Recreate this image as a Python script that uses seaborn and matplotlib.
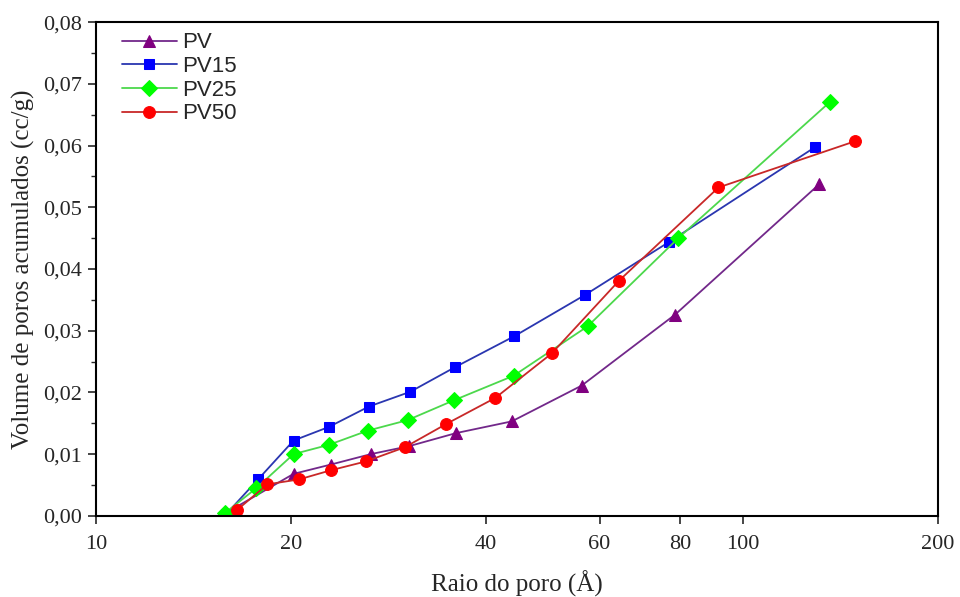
import numpy as np
import pandas as pd
import matplotlib
matplotlib.use("Agg")
import matplotlib.pyplot as plt
import matplotlib.ticker as mticker
import seaborn as sns

# raio do poro (A) e volume acumulado (cc/g)
pv_x = [15.9, 20.2, 23.05, 26.6, 30.5, 36.0, 43.9, 56.3, 78.5, 131]
pv_y = [0.0005, 0.0068, 0.0083, 0.0100, 0.0113, 0.0134, 0.0153, 0.0211, 0.0326, 0.0537]

pv15_x = [15.9, 17.8, 20.2, 22.9, 26.4, 30.6, 35.9, 44.3, 57.0, 76.9, 129]
pv15_y = [0.0003, 0.0059, 0.0122, 0.0144, 0.0177, 0.0201, 0.0241, 0.0291, 0.0358, 0.0444, 0.0597]

pv25_x = [15.8, 17.7, 20.2, 22.9, 26.3, 30.3, 35.7, 44.2, 57.5, 79.4, 136]
pv25_y = [0.0004, 0.0045, 0.0100, 0.0115, 0.0138, 0.0155, 0.0187, 0.0227, 0.0307, 0.0450, 0.0670]

pv50_x = [16.5, 18.4, 20.6, 23.1, 26.1, 30.0, 34.8, 41.4, 50.6, 64.3, 91.6, 149]
pv50_y = [0.0009, 0.0051, 0.0059, 0.0074, 0.0088, 0.0111, 0.0149, 0.0191, 0.0263, 0.0381, 0.0532, 0.0607]

nomes = ['PV', 'PV15', 'PV25', 'PV50']
xs = [pv_x, pv15_x, pv25_x, pv50_x]
ys = [pv_y, pv15_y, pv25_y, pv50_y]
marcadores = ['^', 's', 'D', 'o']
cor_marcador = ['#800080', '#0000ff', '#00ff00', '#ff0000']
cor_linha = ['#72288a', '#2a36b0', '#4cd84c', '#c82828']
tamanhos = [9, 7, 8, 8.5]

sns.set_style("white")
plt.rcParams['font.family'] = ['Liberation Serif', 'DejaVu Serif']

fig, ax = plt.subplots(figsize=(9.6, 5.97), dpi=100)
fig.subplots_adjust(left=0.1, right=0.977, top=0.963, bottom=0.136)

for i in range(len(nomes)):
    df = pd.DataFrame({'x': xs[i], 'y': ys[i]})
    sns.lineplot(data=df, x='x', y='y', ax=ax, sort=False, color=cor_linha[i],
                 linewidth=1.3, marker=marcadores[i], markersize=tamanhos[i],
                 markerfacecolor=cor_marcador[i], markeredgecolor=cor_marcador[i],
                 label=nomes[i])

ax.set_xscale('log')
ax.set_xlim(10, 200)
ax.set_ylim(0, 0.08)
ax.xaxis.set_major_locator(mticker.FixedLocator([10, 20, 40, 60, 80, 100, 200]))
ax.xaxis.set_major_formatter(mticker.FixedFormatter(['10', '20', '40', '60', '80', '100', '200']))
ax.xaxis.set_minor_locator(mticker.NullLocator())
ax.yaxis.set_major_locator(mticker.MultipleLocator(0.01))
ax.yaxis.set_minor_locator(mticker.MultipleLocator(0.005))
ax.yaxis.set_major_formatter(mticker.FuncFormatter(lambda v, p: ('%.2f' % v).replace('.', ',')))

ax.tick_params(axis='both', which='major', direction='out', length=6, width=1.2,
               labelsize=16, pad=4, left=True, bottom=True, top=False, right=False)
ax.tick_params(axis='x', which='major', pad=8)
ax.tick_params(axis='y', which='minor', direction='out', length=3.5, width=1.0, left=True)
for s in ax.spines.values():
    s.set_linewidth(1.5)
    s.set_color('black')

ax.set_xlabel('Raio do poro (Å)', fontsize=18, labelpad=12)
ax.set_ylabel('Volume de poros acumulados (cc/g)', fontsize=18, labelpad=6)

leg = ax.legend(loc='upper left', frameon=False, handlelength=2.45, handletextpad=0.27,
                numpoints=1, prop={'family': 'Liberation Sans', 'size': 16},
                labelspacing=0.12, borderpad=0, borderaxespad=0,
                bbox_to_anchor=(0.031, 0.979))

fig.savefig('out.png', dpi=100)
